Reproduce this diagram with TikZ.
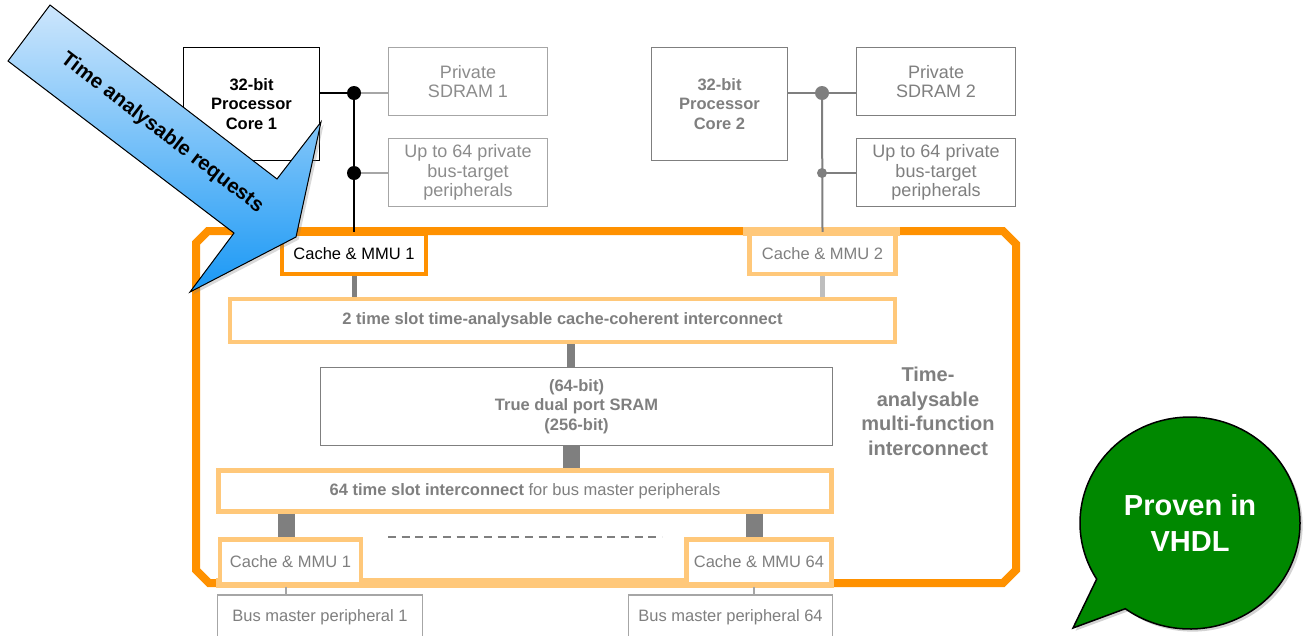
\documentclass[tikz,border=0pt]{standalone}
\usepackage{fontspec}
\setmainfont{Liberation Sans}
\usetikzlibrary{shapes.callouts,shadows}
\definecolor{darkorange}{RGB}{255,145,0}
\definecolor{lightorange}{RGB}{255,200,122}
\definecolor{midgray}{RGB}{127,127,127}
\definecolor{palegray}{RGB}{166,166,166}
\definecolor{paletext}{RGB}{140,140,140}
\definecolor{lightline}{RGB}{190,190,190}
\definecolor{arrowtop}{RGB}{205,230,252}
\definecolor{arrowbottom}{RGB}{25,152,245}
\definecolor{bubblegreen}{RGB}{0,136,0}
\begin{document}
\begin{tikzpicture}[%
  x = 1pt, y = -1pt,
  box/.style = {rectangle, fill = white, inner sep = 0pt, align = center,
    font = \fontsize{16.5}{19.5}\selectfont},
  corebox/.style = {box, line width = 1.2pt, minimum width = 136pt,
    minimum height = 113pt, font = \bfseries\fontsize{16.5}{19.5}\selectfont},
  membox/.style = {box, draw = palegray, text = paletext, line width = 1.2pt,
    minimum width = 159pt, minimum height = 68pt, font = \fontsize{18}{19.5}\selectfont},
  cachebox/.style = {box, line width = 4.5pt, minimum height = 40pt},
  lightbox/.style = {cachebox, draw = lightorange, text = midgray},
  plainbox/.style = {box, line width = 1.2pt, text = midgray},
  bus/.style = {line width = 2pt},
  link/.style = {midgray}]
  \useasboundingbox (0, 0) rectangle (1313, 635);
  \clip (0, 0) rectangle (1313, 635);

  % multi-function interconnect frame
  \draw[darkorange, line width = 8pt] (196, 243) -- (208, 231) -- (1003, 231) -- (1016, 244)
    -- (1016, 570) -- (1003, 583) -- (209, 583) -- (196, 570) -- cycle;
  \fill[lightorange] (743, 227) rectangle (900, 236);
  \fill[lightorange] (216, 578) rectangle (834, 588);

  \node[corebox, draw = black] (core1) at (251.5, 104) {32-bit\\Processor\\Core 1};
  \node[membox] (sdram1) at (468, 81.5) {Private\\SDRAM 1};
  \node[membox] (periph1) at (468, 172.5) {Up to 64 private\\bus-target\\peripherals};
  \node[corebox, draw = midgray, text = midgray] (core2) at (719.5, 104) {32-bit\\Processor\\Core 2};
  \node[membox, draw = midgray, text = midgray] (sdram2) at (936, 81.5) {Private\\SDRAM 2};
  \node[membox, draw = midgray, text = midgray] (periph2) at (936, 172.5) {Up to 64 private\\bus-target\\peripherals};

  \node[cachebox, draw = darkorange, minimum width = 144pt] (cache1) at (354, 254) {Cache \& MMU 1};
  \node[lightbox, minimum width = 146pt] (cache2) at (822.5, 254) {Cache \& MMU 2};
  \node[lightbox, minimum width = 665pt, minimum height = 43pt,
    font = \bfseries\fontsize{16.5}{19.5}\selectfont] (ic1) at (562.5, 320.5)
    {2 time slot time-analysable cache-coherent interconnect};
  \node[plainbox, draw = midgray, minimum width = 512pt, minimum height = 78pt,
    font = \bfseries\fontsize{16.5}{19.5}\selectfont] (sram) at (576.5, 406.5)
    {(64-bit)\\True dual port SRAM\\(256-bit)};
  \node[lightbox, minimum width = 613pt, minimum height = 41pt] (ic2) at (525, 491)
    {\textbf{64 time slot interconnect} for bus master peripherals};
  \node[lightbox, minimum width = 141pt, minimum height = 45pt] (bcache1) at (290.5, 562) {Cache \& MMU 1};
  \node[lightbox, minimum width = 145pt, minimum height = 45pt] (bcache64) at (759, 562) {Cache \& MMU 64};
  \node[plainbox, draw = palegray, minimum width = 205pt, minimum height = 44pt] (bm1) at (320, 617) {Bus master peripheral 1};
  \node[plainbox, draw = palegray, minimum width = 204pt, minimum height = 44pt] (bm64) at (730.5, 617) {Bus master peripheral 64};

  \node[align = center, text = midgray, font = \bfseries\fontsize{20}{24.5}\selectfont]
    (tamf) at (928, 411.5) {Time-\\analysable\\multi-function\\interconnect};

  % private buses
  \coordinate (j1) at (354, 93);
  \coordinate (j2) at (354, 173);
  \coordinate (j3) at (822, 93);
  \coordinate (j4) at (822, 173);
  \draw[bus, palegray] (j1) -- (sdram1.west |- j1);
  \draw[bus, palegray] (j2) -- (periph1.west |- j2);
  \draw[bus, black] (core1.east |- j1) -- (j1) -- (j2) -- (cache1.north);
  \fill[black] (j1) circle (7pt) (j2) circle (7pt);
  \draw[bus, midgray] (core2.east |- j3) -- (sdram2.west |- j3);
  \draw[bus, midgray] (j4) -- (periph2.west |- j4);
  \draw[bus, midgray] (j3) -- (cache2.north);
  \fill[midgray] (j3) circle (7pt) (j4) circle (5pt);

  % shared connections
  \coordinate (ramport) at (571, 406);
  \coordinate (port1) at (286, 562);
  \coordinate (port64) at (754, 562);
  \draw[link, line width = 5pt] (cache1.south) -- (ic1.north -| cache1.south);
  \draw[link, lightline, line width = 5pt] (cache2.south) -- (ic1.north -| cache2.south);
  \draw[link, line width = 8pt] (ic1.south -| ramport) -- (sram.north -| ramport);
  \draw[link, line width = 17pt] (sram.south -| ramport) -- (ic2.north -| ramport);
  \draw[link, line width = 17pt] (ic2.south -| port1) -- (bcache1.north -| port1);
  \draw[link, line width = 17pt] (ic2.south -| port64) -- (bcache64.north -| port64);
  \draw[link, palegray, line width = 2pt] (bcache1.south -| port1) -- (bm1.north -| port1);
  \draw[link, palegray, line width = 2pt] (bcache64.south -| port64) -- (bm64.north -| port64);
  \coordinate (dashl) at (388, 537);
  \coordinate (dashr) at (662, 537);
  \draw[midgray, line width = 1.2pt, dash pattern = on 8pt off 5.7pt] (dashl) -- (dashr);

  % callouts
  \filldraw[top color = arrowtop, bottom color = arrowbottom, draw = black, line width = 1pt,
    drop shadow = {opacity = 0.3}]
    (50, 5) -- (277, 179) -- (321, 122) -- (296, 237) -- (190, 292) -- (234, 233) -- (8, 61) -- cycle;
  \node[rotate = -37.5, font = \bfseries\fontsize{20.5}{24}\selectfont] (tareq) at (162, 133)
    {Time analysable requests};
  \node[ellipse callout, draw = black, fill = bubblegreen, line width = 1.5pt,
    minimum width = 220pt, minimum height = 212pt, inner sep = 0pt,
    callout absolute pointer = {(1073, 628)}, callout pointer arc = 22,
    drop shadow = {opacity = 0.35}, text = white, align = center,
    font = \bfseries\fontsize{29}{36}\selectfont] (vhdl) at (1190, 523) {Proven in\\VHDL};
\end{tikzpicture}
\end{document}
